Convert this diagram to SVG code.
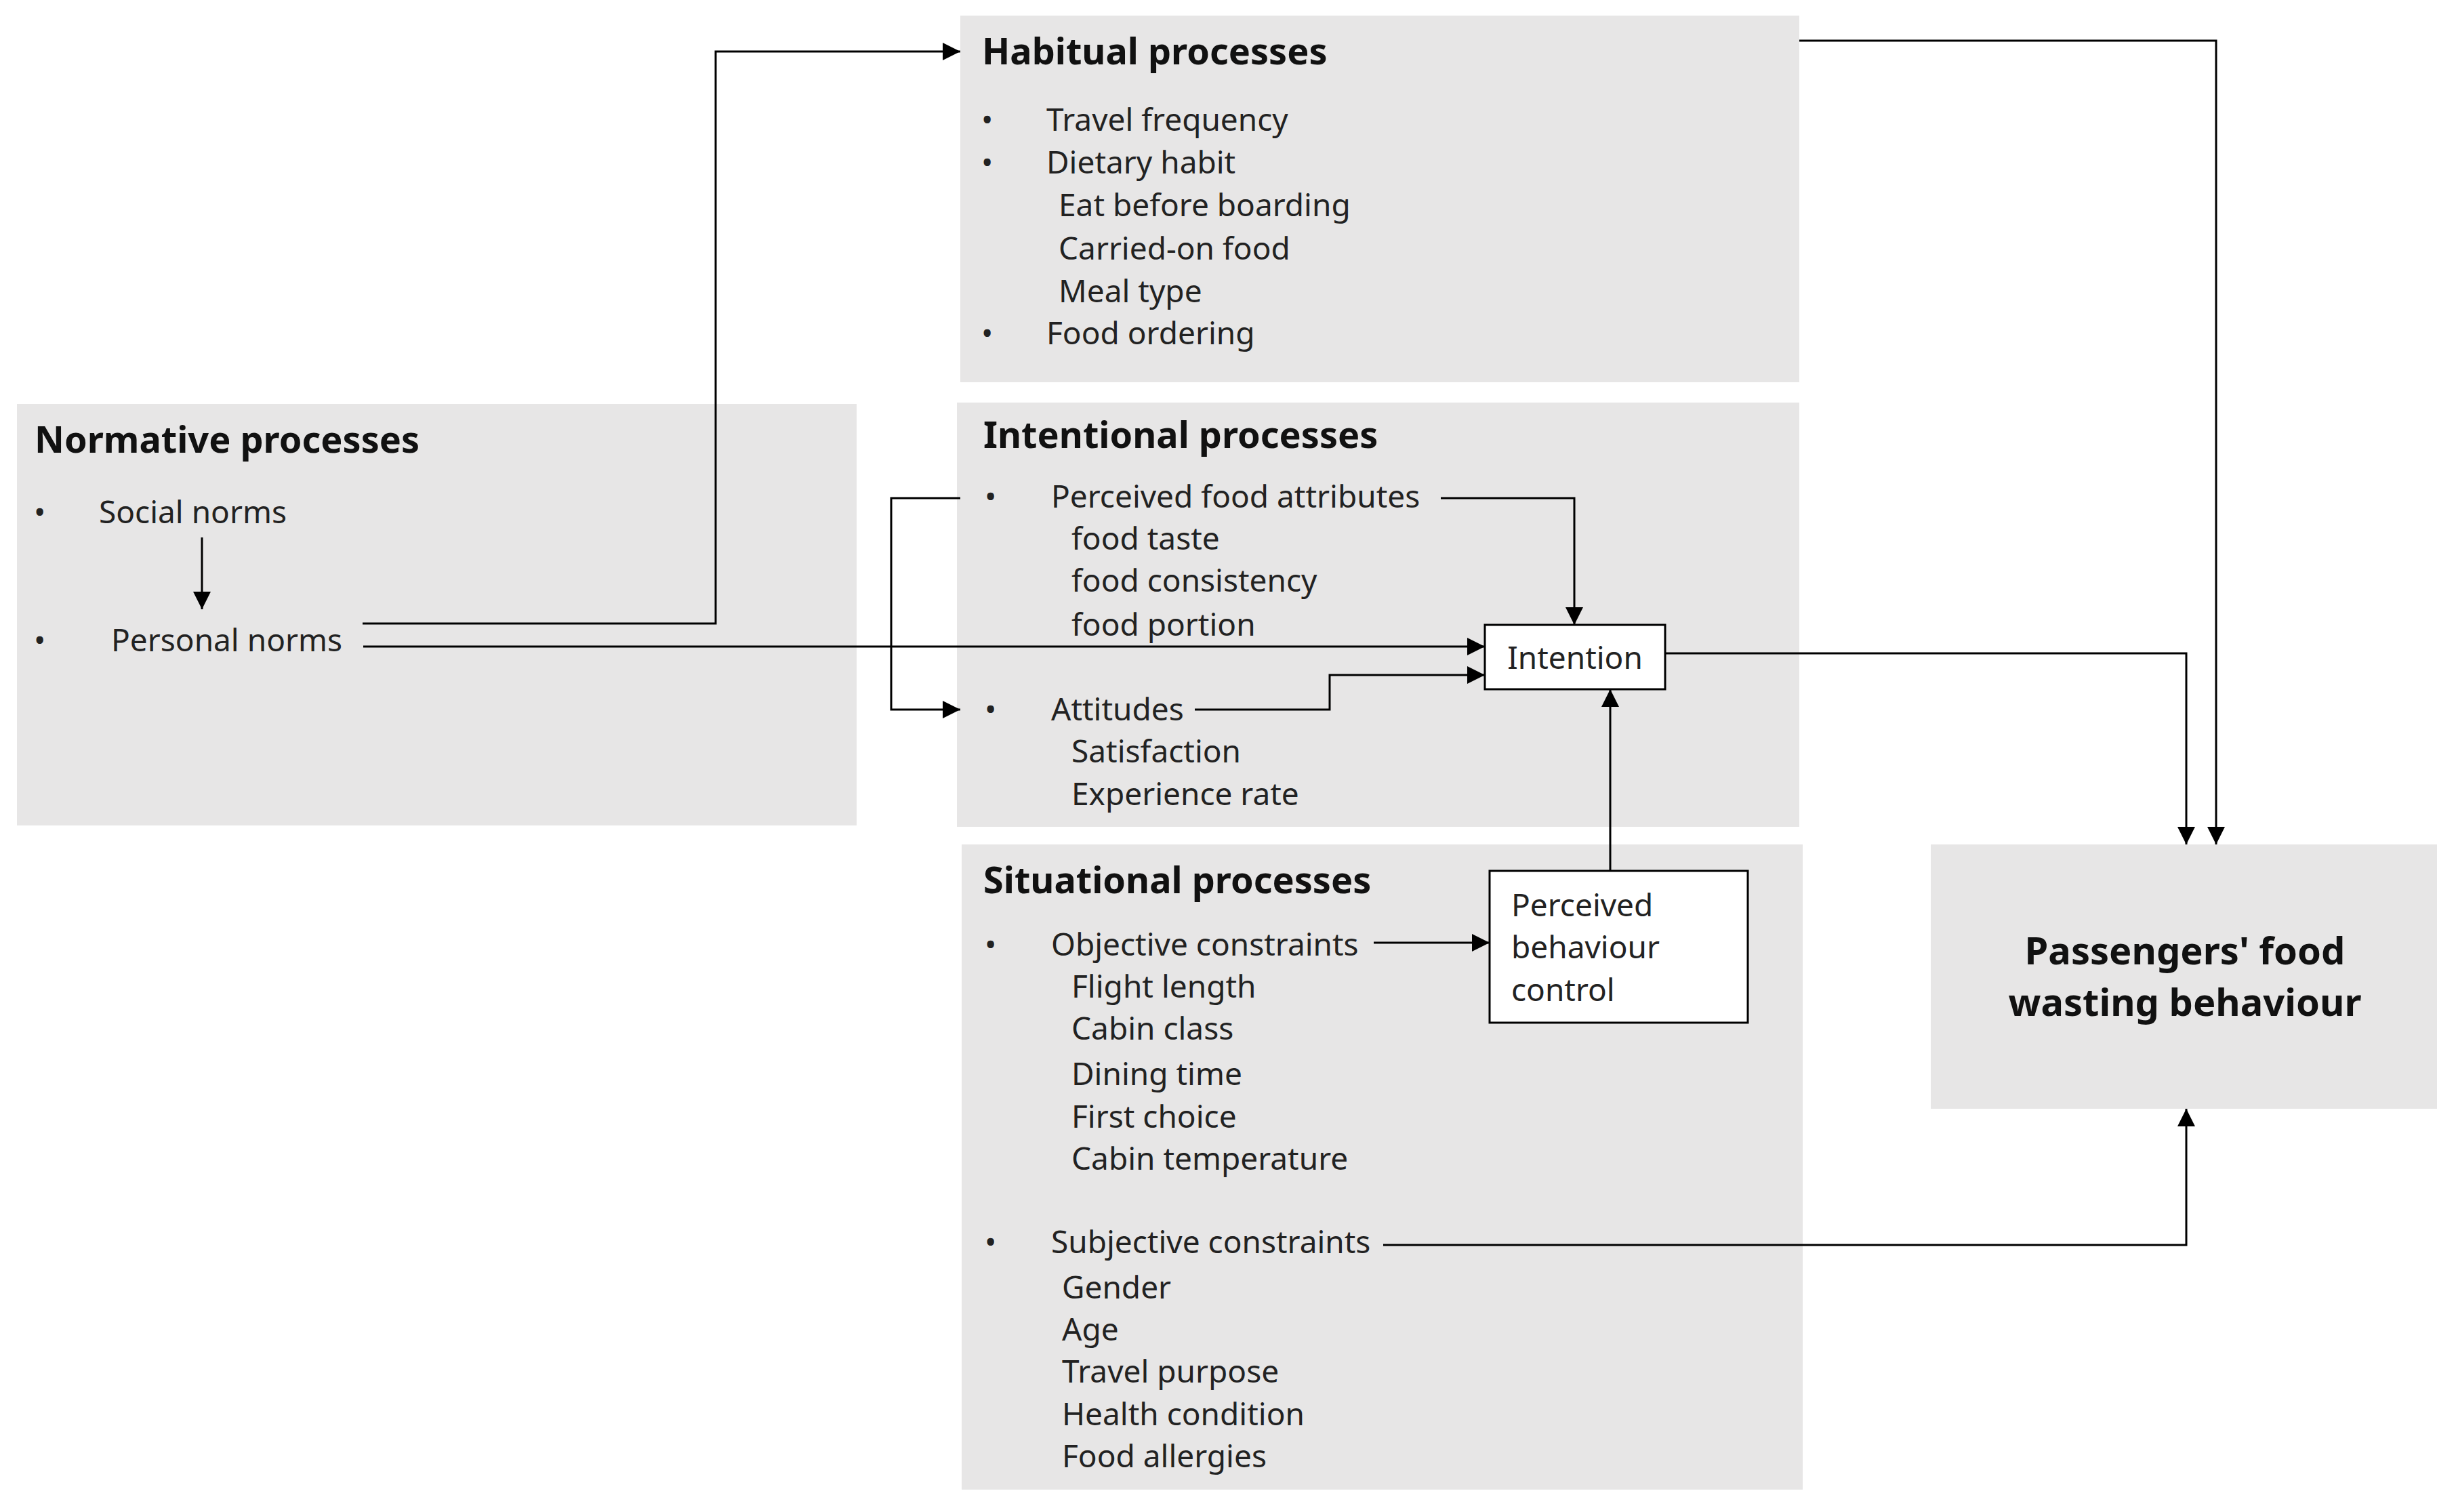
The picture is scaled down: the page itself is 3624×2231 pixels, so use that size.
<svg xmlns="http://www.w3.org/2000/svg" width="3624" height="2231" viewBox="0 0 3624 2231">
<style>
.box{fill:#e7e6e6}
.wb{fill:#fff;stroke:#000;stroke-width:3}
text{font-family:"Noto Sans","Open Sans",sans-serif;fill:#222;font-size:46px}
.t{font-weight:bold;font-size:54px;fill:#111}
.p{font-weight:bold;font-size:56px;fill:#111;text-anchor:middle}
.c path,.c line{fill:none;stroke:#000;stroke-width:3}
</style>
<defs><marker id="a" viewBox="0 0 10 10" refX="10" refY="5" markerWidth="8" markerHeight="8" markerUnits="userSpaceOnUse" orient="auto"><path d="M0,0L10,5L0,10z" fill="#000"/></marker>
<marker id="b" viewBox="0 0 10 10" refX="10" refY="5" markerWidth="26" markerHeight="26" markerUnits="userSpaceOnUse" orient="auto"><path d="M0,0L10,5L0,10z" fill="#000"/></marker></defs>
<g id="habitual"><rect class="box" x="1417" y="23" width="1238" height="541"/>
<text class="t" x="1449" y="95">Habitual processes</text>
<text x="1448" y="193">•</text><text x="1544" y="193">Travel frequency</text>
<text x="1448" y="256">•</text><text x="1544" y="256">Dietary habit</text>
<text x="1562" y="319">Eat before boarding</text>
<text x="1562" y="383">Carried-on food</text>
<text x="1562" y="446">Meal type</text>
<text x="1448" y="508">•</text><text x="1544" y="508">Food ordering</text></g>
<g id="normative"><rect class="box" x="25" y="596" width="1239" height="622"/>
<text class="t" x="51" y="668">Normative processes</text>
<text x="50" y="772">•</text><text x="146" y="772">Social norms</text>
<text x="50" y="961">•</text><text x="164" y="961">Personal norms</text></g>
<g id="intentional"><rect class="box" x="1412" y="594" width="1243" height="626"/>
<text class="t" x="1451" y="661">Intentional processes</text>
<text x="1453" y="749">•</text><text x="1551" y="749">Perceived food attributes</text>
<text x="1581" y="811">food taste</text>
<text x="1581" y="873">food consistency</text>
<text x="1581" y="938">food portion</text>
<text x="1453" y="1063">•</text><text x="1551" y="1063">Attitudes</text>
<text x="1581" y="1125">Satisfaction</text>
<text x="1581" y="1188">Experience rate</text></g>
<g id="situational"><rect class="box" x="1419" y="1246" width="1241" height="952"/>
<text class="t" x="1451" y="1318">Situational processes</text>
<text x="1453" y="1410">•</text><text x="1551" y="1410">Objective constraints</text>
<text x="1581" y="1472">Flight length</text>
<text x="1581" y="1534">Cabin class</text>
<text x="1581" y="1601">Dining time</text>
<text x="1581" y="1664">First choice</text>
<text x="1581" y="1726">Cabin temperature</text>
<text x="1453" y="1849">•</text><text x="1551" y="1849">Subjective constraints</text>
<text x="1567" y="1916">Gender</text>
<text x="1567" y="1978">Age</text>
<text x="1567" y="2040">Travel purpose</text>
<text x="1567" y="2103">Health condition</text>
<text x="1567" y="2165">Food allergies</text></g>
<g id="intention"><rect class="wb" x="2191" y="922" width="266" height="95"/>
<text x="2324" y="987" text-anchor="middle">Intention</text></g>
<g id="pbc"><rect class="wb" x="2198" y="1285" width="381" height="224"/>
<text x="2230" y="1352">Perceived</text><text x="2230" y="1414">behaviour</text><text x="2230" y="1477">control</text></g>
<g id="passengers"><rect class="box" x="2849" y="1246" width="747" height="390"/>
<text class="p" x="3224" y="1423">Passengers' food</text>
<text class="p" x="3224" y="1499">wasting behaviour</text></g>
<g class="c" id="connectors">
<line x1="298" y1="793" x2="298" y2="899" marker-end="url(#b)"/>
<path d="M535,920H1056V76H1417" marker-end="url(#b)"/>
<path d="M536,954H2191" marker-end="url(#b)"/>
<path d="M2126,735H2323V922" marker-end="url(#b)"/>
<path d="M1417,735H1315V1047H1417" marker-end="url(#b)"/>
<path d="M1763,1047H1962V996H2191" marker-end="url(#b)"/>
<path d="M2376,1285V1017" marker-end="url(#b)"/>
<path d="M2027,1391H2198" marker-end="url(#b)"/>
<path d="M2457,964H3226V1246" marker-end="url(#b)"/>
<path d="M2655,60H3270V1246" marker-end="url(#b)"/>
<path d="M2041,1837H3226V1636" marker-end="url(#b)"/>
</g>
</svg>
